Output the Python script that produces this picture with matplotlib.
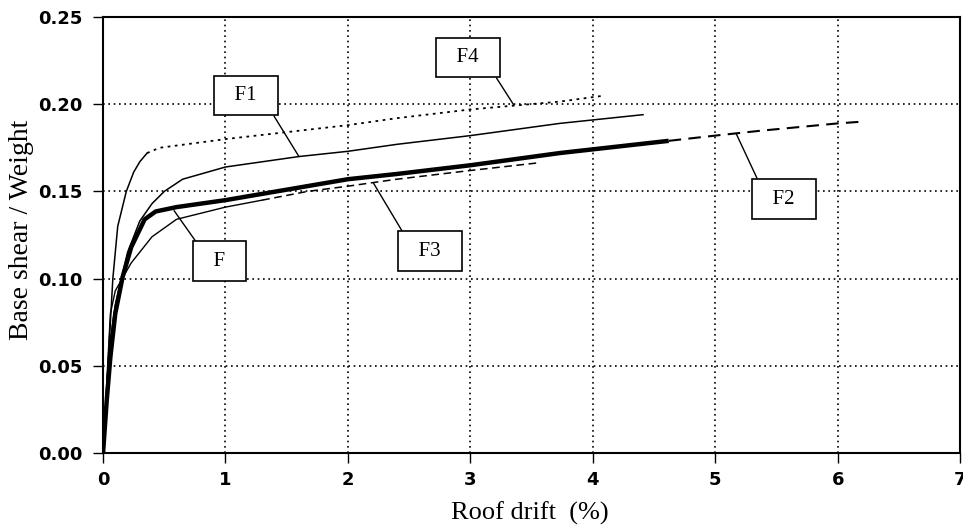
import numpy as np
import matplotlib.pyplot as plt

# pushover curves (roof drift %, base shear / weight)
f_x = [0, 0.03, 0.06, 0.10, 0.16, 0.23, 0.34, 0.43, 0.60, 1.0, 2.0, 2.4, 3.0, 3.73, 4.62]
f_y = [0, 0.030, 0.055, 0.080, 0.101, 0.118, 0.134, 0.1385, 0.141, 0.145, 0.157, 0.160, 0.165, 0.172, 0.179]

f1_x = [0, 0.05, 0.10, 0.20, 0.30, 0.40, 0.50, 0.65, 1.0, 1.6, 2.0, 2.4, 3.0, 3.73, 4.41]
f1_y = [0, 0.060, 0.085, 0.115, 0.133, 0.143, 0.150, 0.157, 0.164, 0.170, 0.173, 0.177, 0.182, 0.189, 0.194]

f2_x = [4.62, 5.0, 5.37, 6.0, 6.2]
f2_y = [0.179, 0.182, 0.1848, 0.189, 0.190]

f3_x = [0, 0.03, 0.06, 0.10, 0.23, 0.40, 0.60, 1.0, 1.3, 1.67, 2.0, 2.4, 3.0, 3.57]
f3_y = [0, 0.040, 0.080, 0.093, 0.109, 0.124, 0.134, 0.141, 0.145, 0.150, 0.153, 0.157, 0.162, 0.1665]

f4_x = [0, 0.04, 0.08, 0.12, 0.19, 0.25, 0.30, 0.36, 0.46, 1.0, 2.0, 2.4, 3.0, 3.73, 4.1]
f4_y = [0, 0.050, 0.100, 0.130, 0.150, 0.161, 0.167, 0.172, 0.175, 0.180, 0.188, 0.192, 0.197, 0.2015, 0.205]

x_ticks = [0, 1, 2, 3, 4, 5, 6, 7]
y_ticks = [0.00, 0.05, 0.10, 0.15, 0.20, 0.25]

serif = ['Liberation Serif', 'DejaVu Serif']

fig = plt.figure(figsize=(9.63, 5.27), dpi=100)
ax = fig.add_axes([0.107, 0.1404, 0.890, 0.8273])

ax.set_xlim(0, 7)
ax.set_ylim(0, 0.25)
ax.set_xticks(x_ticks)
ax.set_yticks(y_ticks)
ax.set_yticklabels([f"{v:.2f}" for v in y_ticks])
ax.grid(True, color='black', linestyle=(0, (1, 2.2)), linewidth=1.2)
ax.set_axisbelow(True)

for s in ax.spines.values():
    s.set_linewidth(1.5)
ax.tick_params(axis='both', direction='out', length=7, width=1,
               labelsize=13)
ax.tick_params(axis='y', pad=8)
ax.tick_params(axis='x', pad=6)
for lab in ax.get_xticklabels() + ax.get_yticklabels():
    lab.set_fontweight('bold')

# F4: steep part solid, then dotted
k4 = f4_x.index(0.36)
ax.plot(f4_x[:k4 + 1], f4_y[:k4 + 1], color='black', lw=1.1)
ax.plot(f4_x[k4:], f4_y[k4:], color='black', lw=1.3, linestyle=(0, (1.5, 2.5)))

# F1 thin solid
ax.plot(f1_x, f1_y, color='black', lw=1.1)

# F3 thin, dashes on the upper part
k3 = f3_x.index(1.3)
ax.plot(f3_x[:k3 + 1], f3_y[:k3 + 1], color='black', lw=1.0)
ax.plot(f3_x[k3:], f3_y[k3:], color='black', lw=1.1, linestyle=(0, (5, 3)))

# F2 continues past F, dashed
ax.plot(f2_x, f2_y, color='black', lw=1.5, linestyle=(0, (6, 3.5)))

# F bold
ax.plot(f_x, f_y, color='black', lw=3.2, solid_capstyle='butt')

box = dict(boxstyle='square,pad=0.5', fc='white', ec='black', lw=1.2)


def tag(text, xy, xytext, rel):
    ax.annotate(text, xy=xy, xytext=xytext, ha='center', va='center',
                fontsize=15, family=serif, bbox=box,
                arrowprops=dict(arrowstyle='-', color='black', lw=1.0,
                                relpos=rel, shrinkA=0, shrinkB=0))


tag('  F1  ', (1.60, 0.170), (1.165, 0.2050), (1, 0))
tag('  F4  ', (3.355, 0.1995), (2.98, 0.2268), (1, 0))
tag('  F2  ', (5.17, 0.1833), (5.56, 0.1456), (0, 1))
tag('  F3  ', (2.21, 0.1546), (2.67, 0.1158), (0, 1))
tag('  F  ', (0.58, 0.139), (0.95, 0.1100), (0, 1))

ax.set_xlabel('Roof drift  (%)', fontsize=19, family=serif)
ax.set_ylabel('Base shear / Weight', fontsize=20, family=serif)
ax.xaxis.set_label_coords(0.498, -0.112)
ax.yaxis.set_label_coords(-0.081, 0.511)

fig.savefig('out.png', dpi=100)
